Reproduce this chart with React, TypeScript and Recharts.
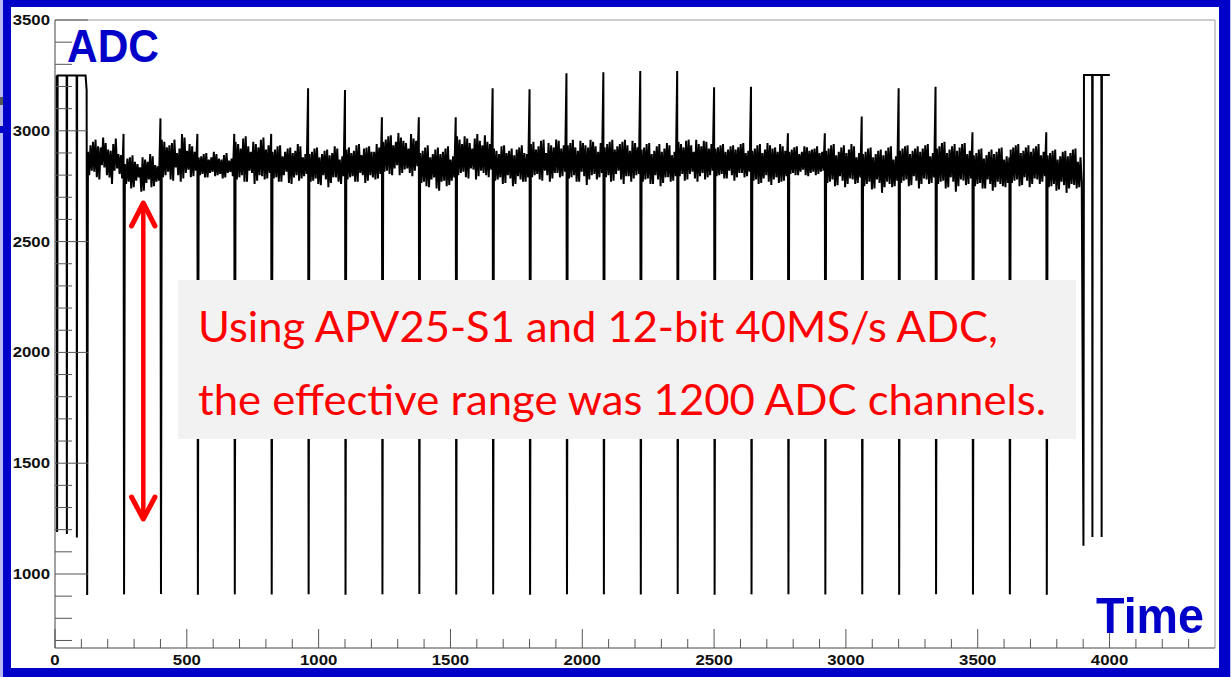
import { LineChart, Line, XAxis, YAxis, ReferenceLine } from "recharts";

// APV25 raw frame readout, sampled ADC vs time
const leadTime = [6, 8, 10, 44, 45, 46, 82, 83, 84, 116];
const leadAdc = [3250, 1190, 3250, 3250, 1180, 3250, 3250, 1165, 3250, 3250];

const spikeTime = [120, 260, 400, 540, 680, 820, 960, 1100, 1240, 1380, 1520, 1660, 1800, 1940, 2080, 2220, 2360, 2500, 2640, 2780, 2920, 3060, 3200, 3340, 3480, 3620, 3760];
const spikeHigh = [3184, 2986, 3056, 2986, 2986, 2986, 3192, 3184, 3061, 3061, 3061, 3192, 3187, 3260, 3264, 3270, 3270, 3196, 3199, 2989, 2989, 3064, 3192, 3199, 2993, 2880, 2993];
const spikeLow = [905, 908, 910, 906, 908, 907, 909, 906, 908, 910, 907, 908, 906, 909, 908, 907, 910, 906, 908, 909, 907, 908, 906, 909, 907, 908, 906];

// channel readings between two sync pulses, one row per frame (first half of each sample pair)
const frameEven = [
  [2905, 2820, 2950, 2790, 2930, 2845, 2970, 2800, 2915, 2760, 2940, 2830, 2895, 2785],
  [2850, 2770, 2880, 2745, 2860, 2790, 2835, 2730, 2870, 2780, 2895, 2750, 2845, 2775],
  [2960, 2800, 2925, 2780, 2945, 2835, 2900, 2770, 2985, 2810, 2910, 2790, 2930, 2820],
  [2880, 2805, 2895, 2790, 2870, 2815, 2905, 2800, 2875, 2785, 2890, 2810, 2865, 2795],
  [2950, 2790, 2920, 2770, 2975, 2820, 2905, 2760, 2940, 2800, 2960, 2780, 2915, 2810],
  [2905, 2790, 2930, 2770, 2885, 2815, 2920, 2760, 2900, 2800, 2940, 2785, 2880, 2805],
  [2895, 2775, 2920, 2760, 2880, 2800, 2910, 2745, 2890, 2790, 2930, 2770, 2870, 2795],
  [2915, 2790, 2900, 2770, 2935, 2810, 2890, 2765, 2925, 2800, 2905, 2780, 2940, 2805],
  [2950, 2820, 2975, 2800, 2935, 2845, 2990, 2810, 2955, 2830, 2920, 2795, 2965, 2840],
  [2900, 2770, 2925, 2745, 2880, 2790, 2915, 2730, 2895, 2775, 2920, 2755, 2870, 2790],
  [2975, 2810, 2940, 2790, 2965, 2830, 2920, 2780, 2985, 2820, 2935, 2800, 2950, 2825],
  [2920, 2780, 2895, 2760, 2935, 2800, 2910, 2750, 2890, 2795, 2925, 2770, 2900, 2790],
  [2940, 2800, 2915, 2780, 2955, 2820, 2900, 2770, 2935, 2810, 2960, 2790, 2920, 2815],
  [2935, 2790, 2960, 2770, 2910, 2815, 2945, 2755, 2925, 2800, 2950, 2780, 2905, 2810],
  [2925, 2800, 2950, 2775, 2915, 2820, 2940, 2760, 2960, 2795, 2910, 2785, 2945, 2805],
  [2915, 2780, 2940, 2760, 2895, 2800, 2930, 2750, 2905, 2790, 2945, 2770, 2890, 2795],
  [2950, 2805, 2925, 2780, 2960, 2815, 2905, 2770, 2940, 2810, 2955, 2790, 2920, 2820],
  [2920, 2800, 2935, 2785, 2905, 2820, 2930, 2775, 2915, 2810, 2940, 2790, 2900, 2815],
  [2910, 2780, 2935, 2765, 2900, 2800, 2945, 2755, 2920, 2790, 2905, 2770, 2930, 2795],
  [2905, 2810, 2925, 2800, 2895, 2825, 2930, 2795, 2910, 2815, 2920, 2805, 2900, 2820],
  [2910, 2770, 2935, 2750, 2890, 2795, 2925, 2745, 2900, 2785, 2940, 2760, 2880, 2790],
  [2895, 2760, 2920, 2735, 2880, 2780, 2910, 2720, 2890, 2770, 2925, 2745, 2870, 2775],
  [2910, 2775, 2930, 2750, 2895, 2795, 2920, 2740, 2905, 2785, 2935, 2760, 2885, 2790],
  [2920, 2770, 2945, 2740, 2900, 2790, 2930, 2725, 2910, 2780, 2940, 2755, 2895, 2785],
  [2890, 2760, 2915, 2740, 2875, 2780, 2905, 2730, 2895, 2770, 2920, 2750, 2870, 2765],
  [2915, 2775, 2935, 2750, 2900, 2790, 2925, 2745, 2905, 2785, 2930, 2760, 2890, 2795],
  [2890, 2750, 2910, 2730, 2870, 2770, 2905, 2720, 2885, 2760, 2915, 2740, 2860, 2765],
];

// the other half of each sample pair
const frameOdd = [
  [2800, 2935, 2815, 2960, 2780, 2925, 2835, 2945, 2790, 2910, 2820, 2965, 2805, 2890],
  [2760, 2875, 2740, 2890, 2775, 2850, 2725, 2880, 2765, 2860, 2745, 2885, 2770, 2840],
  [2790, 2950, 2815, 2935, 2775, 2960, 2800, 2920, 2785, 2970, 2825, 2940, 2795, 2905],
  [2800, 2885, 2790, 2900, 2810, 2880, 2795, 2895, 2805, 2870, 2790, 2900, 2815, 2875],
  [2780, 2940, 2800, 2965, 2770, 2930, 2810, 2950, 2775, 2925, 2795, 2970, 2785, 2935],
  [2785, 2915, 2770, 2935, 2800, 2905, 2765, 2925, 2790, 2910, 2775, 2930, 2795, 2895],
  [2770, 2905, 2785, 2925, 2755, 2895, 2780, 2915, 2765, 2900, 2790, 2920, 2760, 2885],
  [2780, 2925, 2795, 2910, 2770, 2940, 2800, 2920, 2775, 2930, 2790, 2905, 2785, 2925],
  [2815, 2960, 2805, 2980, 2830, 2950, 2800, 2970, 2825, 2945, 2810, 2985, 2820, 2955],
  [2765, 2910, 2750, 2935, 2780, 2895, 2740, 2925, 2770, 2905, 2750, 2930, 2775, 2885],
  [2800, 2960, 2815, 2975, 2785, 2945, 2825, 2965, 2795, 2955, 2810, 2980, 2790, 2940],
  [2775, 2910, 2790, 2930, 2765, 2900, 2785, 2920, 2760, 2915, 2780, 2935, 2770, 2895],
  [2790, 2950, 2805, 2930, 2775, 2960, 2800, 2945, 2785, 2925, 2810, 2955, 2795, 2935],
  [2785, 2945, 2800, 2925, 2770, 2955, 2795, 2935, 2780, 2960, 2805, 2930, 2790, 2945],
  [2790, 2940, 2770, 2960, 2805, 2930, 2780, 2950, 2795, 2935, 2770, 2955, 2800, 2925],
  [2770, 2925, 2785, 2945, 2760, 2910, 2780, 2940, 2765, 2920, 2790, 2935, 2775, 2905],
  [2795, 2940, 2775, 2955, 2805, 2935, 2785, 2960, 2795, 2930, 2780, 2950, 2800, 2940],
  [2795, 2925, 2805, 2940, 2785, 2915, 2800, 2935, 2790, 2925, 2810, 2945, 2795, 2910],
  [2775, 2920, 2760, 2940, 2785, 2915, 2770, 2935, 2780, 2925, 2765, 2940, 2775, 2910],
  [2805, 2915, 2800, 2930, 2815, 2905, 2800, 2925, 2810, 2915, 2800, 2930, 2815, 2905],
  [2765, 2920, 2780, 2940, 2755, 2905, 2775, 2935, 2760, 2915, 2780, 2930, 2765, 2900],
  [2750, 2905, 2770, 2925, 2740, 2895, 2765, 2915, 2745, 2910, 2760, 2930, 2750, 2885],
  [2765, 2920, 2780, 2935, 2755, 2910, 2775, 2930, 2760, 2920, 2780, 2940, 2765, 2900],
  [2760, 2930, 2775, 2950, 2745, 2915, 2770, 2940, 2750, 2925, 2775, 2945, 2760, 2910],
  [2750, 2900, 2765, 2920, 2740, 2890, 2760, 2915, 2745, 2905, 2760, 2925, 2745, 2885],
  [2765, 2925, 2780, 2940, 2755, 2910, 2775, 2935, 2760, 2920, 2780, 2940, 2770, 2905],
  [2745, 2900, 2760, 2915, 2735, 2885, 2755, 2910, 2740, 2900, 2755, 2920, 2745, 2880],
];

const tailTime = [3901, 3903, 3934, 3935, 3936, 3969, 3970, 3971, 4001];
const tailAdc = [1127, 3252, 3252, 1167, 3252, 3252, 1167, 3252, 3252];

const yTicks = [700, 800, 900, 1000, 1100, 1200, 1300, 1400, 1500, 1600, 1700, 1800, 1900, 2000, 2100, 2200, 2300, 2400, 2500, 2600, 2700, 2800, 2900, 3000, 3100, 3200, 3300, 3400, 3500];
const xTicks = [0, 100, 200, 300, 400, 500, 600, 700, 800, 900, 1000, 1100, 1200, 1300, 1400, 1500, 1600, 1700, 1800, 1900, 2000, 2100, 2200, 2300, 2400, 2500, 2600, 2700, 2800, 2900, 3000, 3100, 3200, 3300, 3400, 3500, 3600, 3700, 3800, 3900, 4000, 4100, 4200, 4300];

const data: { t: number; adc: number }[] = [];
leadTime.forEach((t, i) => data.push({ t, adc: leadAdc[i] }));
spikeTime.forEach((s, k) => {
  data.push({ t: s, adc: spikeHigh[k] });
  data.push({ t: s + 2, adc: spikeLow[k] });
  frameEven[k].forEach((v, i) => {
    const w = frameOdd[k][i];
    data.push({ t: s + 5 + 9.6 * i, adc: Math.max(v, w) });
    data.push({ t: s + 9.8 + 9.6 * i, adc: Math.min(v, w) });
  });
});
tailTime.forEach((t, i) => data.push({ t, adc: tailAdc[i] }));

const W = 1231;
const H = 677;
const PLOT_LEFT = 55;
const PLOT_BOTTOM = 648;
const TICK_FONT = "'Liberation Sans', Arial, Helvetica, sans-serif";
const BLUE = "#0000c8";

const renderYTick = (props: any) => {
  const { y, payload } = props;
  const major = payload.value % 500 === 0;
  return (
    <g>
      <line x1={PLOT_LEFT} x2={PLOT_LEFT + (major ? 33 : 17)} y1={y} y2={y} stroke="#555" />
      {major && (
        <text
          transform={`translate(50 ${y + 5}) scale(1.2 1)`}
          textAnchor="end"
          fontFamily={TICK_FONT}
          fontWeight="bold"
          fontSize={14}
          fill="#111"
        >
          {payload.value}
        </text>
      )}
    </g>
  );
};

const renderXTick = (props: any) => {
  const { x, payload } = props;
  const major = payload.value % 500 === 0;
  return (
    <g>
      <line x1={x} x2={x} y1={PLOT_BOTTOM} y2={PLOT_BOTTOM - (major ? 19 : 9)} stroke="#555" />
      {major && (
        <text
          transform={`translate(${x} 665) scale(1.2 1)`}
          textAnchor="middle"
          fontFamily={TICK_FONT}
          fontWeight="bold"
          fontSize={14}
          fill="#111"
        >
          {payload.value}
        </text>
      )}
    </g>
  );
};

export default function App() {
  return (
    <div style={{ position: "absolute", left: 0, top: 0, width: W, height: H, background: "#fff", overflow: "hidden" }}>
      {/* slide frame */}
      <div style={{ position: "absolute", left: 0, top: 0, width: 3, height: H, background: "#b8b8f4" }} />
      <div style={{ position: "absolute", left: 1230, top: 0, width: 1, height: H, background: "#b8b8f4" }} />
      <div style={{ position: "absolute", left: 0, top: 126, width: 4, height: 7, background: BLUE }} />
      <div style={{ position: "absolute", left: 0, top: 97, width: 3, height: 8, background: "#555" }} />
      <div style={{ position: "absolute", left: 3, top: 0, width: 1227, height: 7, background: BLUE }} />
      <div style={{ position: "absolute", left: 3, top: 668, width: 1227, height: 9, background: BLUE }} />
      <div style={{ position: "absolute", left: 3, top: 0, width: 8, height: H, background: BLUE }} />
      <div style={{ position: "absolute", left: 1219, top: 0, width: 11, height: H, background: BLUE }} />

      <div style={{ position: "absolute", left: 0, top: 0 }}>
        <LineChart width={W} height={H} data={data} margin={{ top: 20, right: 16, left: 0, bottom: 0 }}>
          <XAxis
            type="number"
            dataKey="t"
            domain={[0, 4400]}
            ticks={xTicks}
            interval={0}
            allowDataOverflow
            tick={renderXTick}
            tickLine={false}
            axisLine={{ stroke: "#444" }}
            height={29}
          />
          <YAxis
            type="number"
            domain={[666, 3500]}
            ticks={yTicks}
            interval={0}
            allowDataOverflow
            tick={renderYTick}
            tickLine={false}
            axisLine={{ stroke: "#444" }}
            width={55}
          />
          <ReferenceLine y={3500} stroke="#999" />
          <ReferenceLine x={4400} stroke="#999" />
          <Line
            type="linear"
            dataKey="adc"
            stroke="#000"
            strokeWidth={2}
            dot={false}
            isAnimationActive={false}
          />
        </LineChart>
      </div>

      <svg width={W} height={H} style={{ position: "absolute", left: 0, top: 0, pointerEvents: "none" }}>
        <text x={67} y={62} textLength={92} lengthAdjust="spacingAndGlyphs" fontFamily={TICK_FONT} fontWeight="bold" fontSize={46} fill={BLUE}>
          ADC
        </text>
        <text x={1096} y={633} textLength={108} lengthAdjust="spacingAndGlyphs" fontFamily={TICK_FONT} fontWeight="bold" fontSize={50} fill={BLUE}>
          Time
        </text>

        <line x1={143.3} x2={143.3} y1={206} y2={516} stroke="#ff0000" strokeWidth={4.5} />
        <polyline points="131.5,226 143.3,203 155,226" fill="none" stroke="#ff0000" strokeWidth={5} strokeLinecap="round" strokeLinejoin="round" />
        <polyline points="131.5,497 143.3,519 155,497" fill="none" stroke="#ff0000" strokeWidth={5} strokeLinecap="round" strokeLinejoin="round" />

        <rect x={178} y={280} width={898} height={159} fill="#f2f2f2" />
        <text x={198} y={342} textLength={800} lengthAdjust="spacingAndGlyphs" fontFamily="Lato, 'Open Sans', sans-serif" fontSize={42} fill="#ff0000">
          Using APV25-S1 and 12-bit 40MS/s ADC,
        </text>
        <text x={198} y={415} textLength={848} lengthAdjust="spacingAndGlyphs" fontFamily="Lato, 'Open Sans', sans-serif" fontSize={42} fill="#ff0000">
          the effective range was 1200 ADC channels.
        </text>
      </svg>
    </div>
  );
}
